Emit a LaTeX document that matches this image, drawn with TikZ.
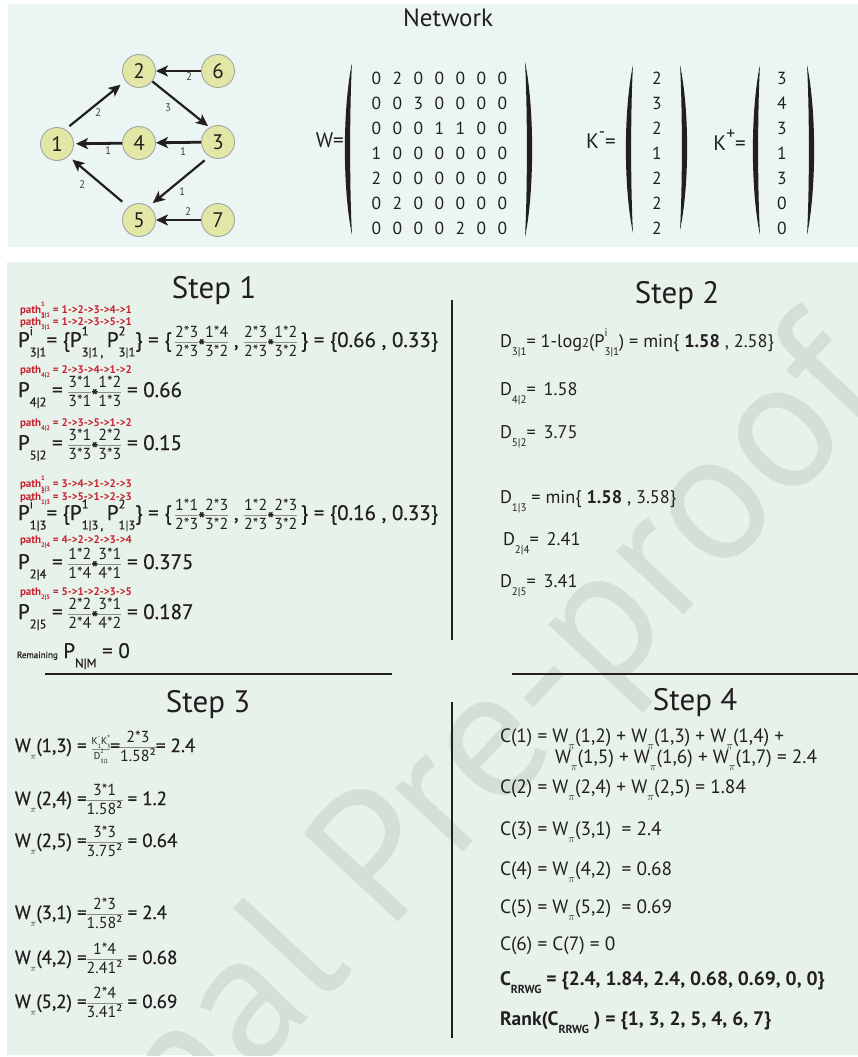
\documentclass[tikz,border=0pt]{standalone}
\usepackage{fontspec}
\usepackage{array}
\usepackage{colortbl}
\setmainfont{PT Sans}
\newfontfamily\semib[FakeBold=0.6]{PT Sans}
\usetikzlibrary{arrows.meta,matrix}
\definecolor{topbg}{HTML}{EBF5F4}
\definecolor{botbg}{HTML}{E7F2EA}
\definecolor{wmark}{HTML}{D4DFD8}
\definecolor{ink}{HTML}{231F20}
\definecolor{nfill}{HTML}{E3E7A6}
\definecolor{nline}{HTML}{A3A5A0}
\definecolor{pathred}{HTML}{C8202E}
\definecolor{fracrule}{HTML}{8C8C8C}
\newcommand\fsz[2]{\fontsize{#1}{#2}\selectfont}
\newcommand\up[1]{\raisebox{0.55em}{\scalebox{0.6}{#1}}}
\newcommand\dn[1]{\raisebox{-0.45em}{\scalebox{0.6}{#1}}}
\newcommand\ud[2]{\rlap{\up{#1}}\dn{#2}}
\newcommand\pisub{\raisebox{-0.4em}{\scalebox{0.55}{$\pi$}}}
\newcommand\st{\raisebox{-0.3em}{\scalebox{0.95}{*}}}
\setlength\extrarowheight{2pt}
\arrayrulecolor{fracrule}
\newcommand\fr[2]{{\normalfont\fsz{16}{17}\begin{tabular}{@{}c@{}}#1\\\hline #2\end{tabular}}}
\newcommand\frs[2]{{\normalfont\fsz{10}{11}\begin{tabular}{@{}c@{}}#1\\\hline #2\end{tabular}}}
\newcommand\lparen[3]{\fill[ink] (#1,#2) .. controls ({#1-9.5},{#2+45}) and ({#1-9.5},{#3-45}) .. (#1,#3) .. controls ({#1-2.5},{#3-45}) and ({#1-2.5},{#2+45}) .. (#1,#2) -- cycle;}
\newcommand\rparen[3]{\fill[ink] (#1,#2) .. controls ({#1+9.5},{#2+45}) and ({#1+9.5},{#3-45}) .. (#1,#3) .. controls ({#1+2.5},{#3-45}) and ({#1+2.5},{#2+45}) .. (#1,#2) -- cycle;}
\tikzset{
  gnode/.style={circle, fill=nfill, draw=nline, line width=0.9pt, minimum size=33pt, inner sep=0pt, text=ink, font=\fsz{21}{21}},
  edge/.style={draw=ink, line width=2.2pt, -{Stealth[length=12pt,width=11pt,inset=3pt]}},
  wlab/.style={inner sep=0pt, text=ink!85, font=\fsz{11}{12}},
  mcell/.style={minimum width=21pt, minimum height=25pt, inner sep=0pt, text=ink, font=\fsz{17.5}{19}},
  txt/.style={inner sep=0pt, outer sep=0pt, text=ink, anchor=base west},
  ptxt/.style={txt, text=pathred, font=\bfseries\fsz{11}{12}},
  title/.style={inner sep=0pt, text=ink, anchor=base, font=\fsz{31}{36}},
  s1/.style={txt, font=\semib\fsz{21}{25}},
  s2/.style={txt, font=\fsz{18.3}{22}},
  s3/.style={txt, font=\semib\fsz{19}{23}},
  s4/.style={txt, font=\fsz{19.3}{22}},
  s4b/.style={txt, font=\bfseries\fsz{19.5}{23}},
  sep/.style={draw=ink, line width=2pt},
}
\begin{document}
\begin{tikzpicture}[x=1pt,y=-1pt]
\useasboundingbox (0,0) rectangle (858,1057);
\fill[topbg] (8,4) rectangle (858,247);
\fill[botbg] (7,262) rectangle (858,1055);
\begin{scope}
\clip (7,262) rectangle (858,1055);
\node[inner sep=0pt, text=wmark, font=\fsz{185}{200}, rotate=47, anchor=base west] (wm) at (317,1009) {\llap{Journa}l Pre-proof};
\end{scope}
% ---------- network ----------
\node[inner sep=0pt, text=ink, anchor=base, font=\fsz{25}{28}] (nettitle) at (448,27) {Network};
\node[gnode] (n1) at (57,144) {1};
\node[gnode] (n2) at (139,71) {2};
\node[gnode] (n6) at (218,71) {6};
\node[gnode] (n4) at (139,143) {4};
\node[gnode] (n3) at (218,142) {3};
\node[gnode] (n5) at (139,220) {5};
\node[gnode] (n7) at (218,220) {7};
\draw[edge, shorten <=5pt, shorten >=6pt] (n1.60) -- (n2.216);
\draw[edge, shorten >=2pt] (n2.-38) -- (n3.120);
\draw[edge, line width=2.8pt] (n6) -- (n2);
\draw[edge, line width=2.8pt] (n3) -- (n4);
\draw[edge, line width=2.8pt, shorten >=2pt] (n4) -- (n1);
\draw[edge, shorten <=6pt, shorten >=5pt] (n3.239) -- (n5.54);
\draw[edge, shorten <=8pt, shorten >=5pt] (n5.129) -- (n1.-47);
\draw[edge, line width=2.8pt] (n7) -- (n5);
\node[wlab] (w12) at (98,113) {2};
\node[wlab] (w23) at (168,108) {3};
\node[wlab] (w62) at (189,77) {2};
\node[wlab] (w41) at (108,151) {1};
\node[wlab] (w34) at (183,152) {1};
\node[wlab] (w35) at (182,192) {1};
\node[wlab] (w51) at (82,185) {2};
\node[wlab] (w75) at (188,212) {2};
% ---------- matrices ----------
\node[inner sep=0pt, text=ink, anchor=east, font=\fsz{21}{24}] (Wlab) at (344,140) {W=};
\lparen{352}{63}{235}
\rparen{525}{62}{237}
\matrix (W) [matrix of nodes, nodes={mcell}, column sep=0pt, row sep=0pt] at (439.5,153.5) {
0 & 2 & 0 & 0 & 0 & 0 & 0 \\
0 & 0 & 3 & 0 & 0 & 0 & 0 \\
0 & 0 & 0 & 1 & 1 & 0 & 0 \\
1 & 0 & 0 & 0 & 0 & 0 & 0 \\
2 & 0 & 0 & 0 & 0 & 0 & 0 \\
0 & 2 & 0 & 0 & 0 & 0 & 0 \\
0 & 0 & 0 & 0 & 2 & 0 & 0 \\
};
\node[inner sep=0pt, text=ink, anchor=east, font=\fsz{21}{24}] (Kmlab) at (616,140) {K\up{\scalebox{1.4}{-}}=};
\lparen{633}{65}{233}
\rparen{680}{65}{230}
\matrix (Km) [matrix of nodes, nodes={mcell}, column sep=0pt, row sep=0pt] at (657,153.5) {
2 \\ 3 \\ 2 \\ 1 \\ 2 \\ 2 \\ 2 \\
};
\node[inner sep=0pt, text=ink, anchor=east, font=\fsz{21}{24}] (Kplab) at (746,140) {K\up{\scalebox{1.4}{+}}=};
\lparen{760}{65}{235}
\rparen{807}{65}{235}
\matrix (Kp) [matrix of nodes, nodes={mcell}, column sep=0pt, row sep=0pt] at (782,153.5) {
3 \\ 4 \\ 3 \\ 1 \\ 3 \\ 0 \\ 0 \\
};
% ---------- separators ----------
\coordinate (v1a) at (452,300); \coordinate (v1b) at (452,640);
\coordinate (v2a) at (452,702); \coordinate (v2b) at (452,1038);
\coordinate (h1a) at (45,674); \coordinate (h1b) at (392,674);
\coordinate (h2a) at (512,674); \coordinate (h2b) at (858,674);
\draw[sep] (v1a) -- (v1b);
\draw[sep] (v2a) -- (v2b);
\draw[sep, line width=2.7pt] (h1a) -- (h1b);
\draw[sep, line width=2.7pt] (h2a) -- (h2b);
% ---------- step 1 ----------
\node[title] (t1) at (214,298) {Step 1};
\node[ptxt] (pa1) at (20,313) {path\ud{1}{3|1} = 1->2->3->4->1};
\node[ptxt] (pa2) at (20,325) {path\ud{2}{3|1} = 1->2->3->5->1};
\node[s1] (p31) at (18,347) {P\ud{i}{3|1}= \{P\ud{1}{3|1\,,}\,P\ud{2}{3|1}\} = \{\,\fr{2*3}{2*3}\st\fr{1*4}{3*2} , \fr{2*3}{2*3}\st\fr{1*2}{3*2}\,\} = \{0.66 , 0.33\}};
\node[ptxt] (pa3) at (20,373) {path\dn{4|2} = 2->3->4->1->2};
\node[s1] (p42) at (18,397) {P\dn{4|2} = \fr{3*1}{3*1}\st\fr{1*2}{1*3} = 0.66};
\node[ptxt] (pa4) at (20,426) {path\dn{4|2} = 2->3->5->1->2};
\node[s1] (p52) at (18,450) {P\dn{5|2} = \fr{3*1}{3*3}\st\fr{2*2}{3*3} = 0.15};
\node[ptxt] (pa5) at (20,487) {path\ud{1}{1|3} = 3->4->1->2->3};
\node[ptxt] (pa6) at (20,500) {path\ud{2}{1|3} = 3->5->1->2->3};
\node[s1] (p13) at (18,520) {P\ud{i}{1|3}= \{P\ud{1}{1|3\,,}\,P\ud{2}{1|3}\} = \{\,\fr{1*1}{2*3}\st\fr{2*3}{3*2} , \fr{1*2}{2*3}\st\fr{2*3}{3*2}\,\} = \{0.16 , 0.33\}};
\node[ptxt] (pa7) at (20,543) {path\dn{2|4} = 4->2->2->3->4};
\node[s1] (p24) at (18,569) {P\dn{2|4} = \fr{1*2}{1*4}\st\fr{3*1}{4*1} = 0.375};
\node[ptxt] (pa8) at (20,595) {path\dn{2|5} = 5->1->2->3->5};
\node[s1] (p25) at (18,619) {P\dn{2|5} = \fr{2*2}{2*4}\st\fr{3*1}{4*2} = 0.187};
\node[s1] (prem) at (17,658) {{\fsz{9}{10}Remaining} P\dn{N|M} = 0};
% ---------- step 2 ----------
\node[title] (t2) at (677,303) {Step 2};
\node[s2] (d31) at (500,347) {D\dn{3|1}= 1-log{\scalebox{0.7}{2}}(P\ud{i}{3|1}) = min\{ \textbf{1.58} , 2.58\}};
\node[s2] (d42) at (500,395) {D\dn{4|2}= \,1.58};
\node[s2] (d52) at (500,438) {D\dn{5|2}= \,3.75};
\node[s2] (d13) at (500,503) {D\dn{1|3} = min\{ \textbf{1.58} , 3.58\}};
\node[s2] (d24) at (503,545) {D\dn{2|4}= \,2.41};
\node[s2] (d25) at (500,587) {D\dn{2|5}= \,3.41};
% ---------- step 3 ----------
\node[title] (t3) at (208,712) {Step 3};
\node[s3] (w13) at (15,752) {W\pisub(1,3) = \frs{K\ud{-}{1}K\ud{+}{3}}{D\ud{2}{3|1}}=\fr{2*3}{1.58²}= 2.4};
\node[s3] (w24) at (15,805) {W\pisub(2,4) =\fr{3*1}{1.58²} = 1.2};
\node[s3] (w25) at (15,847) {W\pisub(2,5) =\fr{3*3}{3.75²} = 0.64};
\node[s3] (w31) at (15,919) {W\pisub(3,1) =\fr{2*3}{1.58²} = 2.4};
\node[s3] (w42) at (15,964) {W\pisub(4,2) =\fr{1*4}{2.41²} = 0.68};
\node[s3] (w52) at (15,1008) {W\pisub(5,2) =\fr{2*4}{3.41²} = 0.69};
% ---------- step 4 ----------
\node[title] (t4) at (695,710) {Step 4};
\node[s4] (c1a) at (500,742) {C(1) = W\pisub(1,2) + W\pisub(1,3) + W\pisub(1,4) +};
\node[s4] (c1b) at (555,763) {W\pisub(1,5) + W\pisub(1,6) + W\pisub(1,7) = 2.4};
\node[s4] (c2) at (500,793) {C(2) = W\pisub(2,4) + W\pisub(2,5) = 1.84};
\node[s4] (c3) at (500,835) {C(3) = W\pisub(3,1) \ = 2.4};
\node[s4] (c4) at (500,875) {C(4) = W\pisub(4,2) \ = 0.68};
\node[s4] (c5) at (500,913) {C(5) = W\pisub(5,2) \ = 0.69};
\node[s4] (c6) at (500,950) {C(6) = C(7) = 0};
\node[s4b] (crr) at (500,985) {C\dn{RRWG} = \{2.4, 1.84, 2.4, 0.68, 0.69, 0, 0\}};
\node[s4b] (rank) at (500,1025) {Rank(C\dn{RRWG} ) = \{1, 3, 2, 5, 4, 6, 7\}};
\end{tikzpicture}
\end{document}
